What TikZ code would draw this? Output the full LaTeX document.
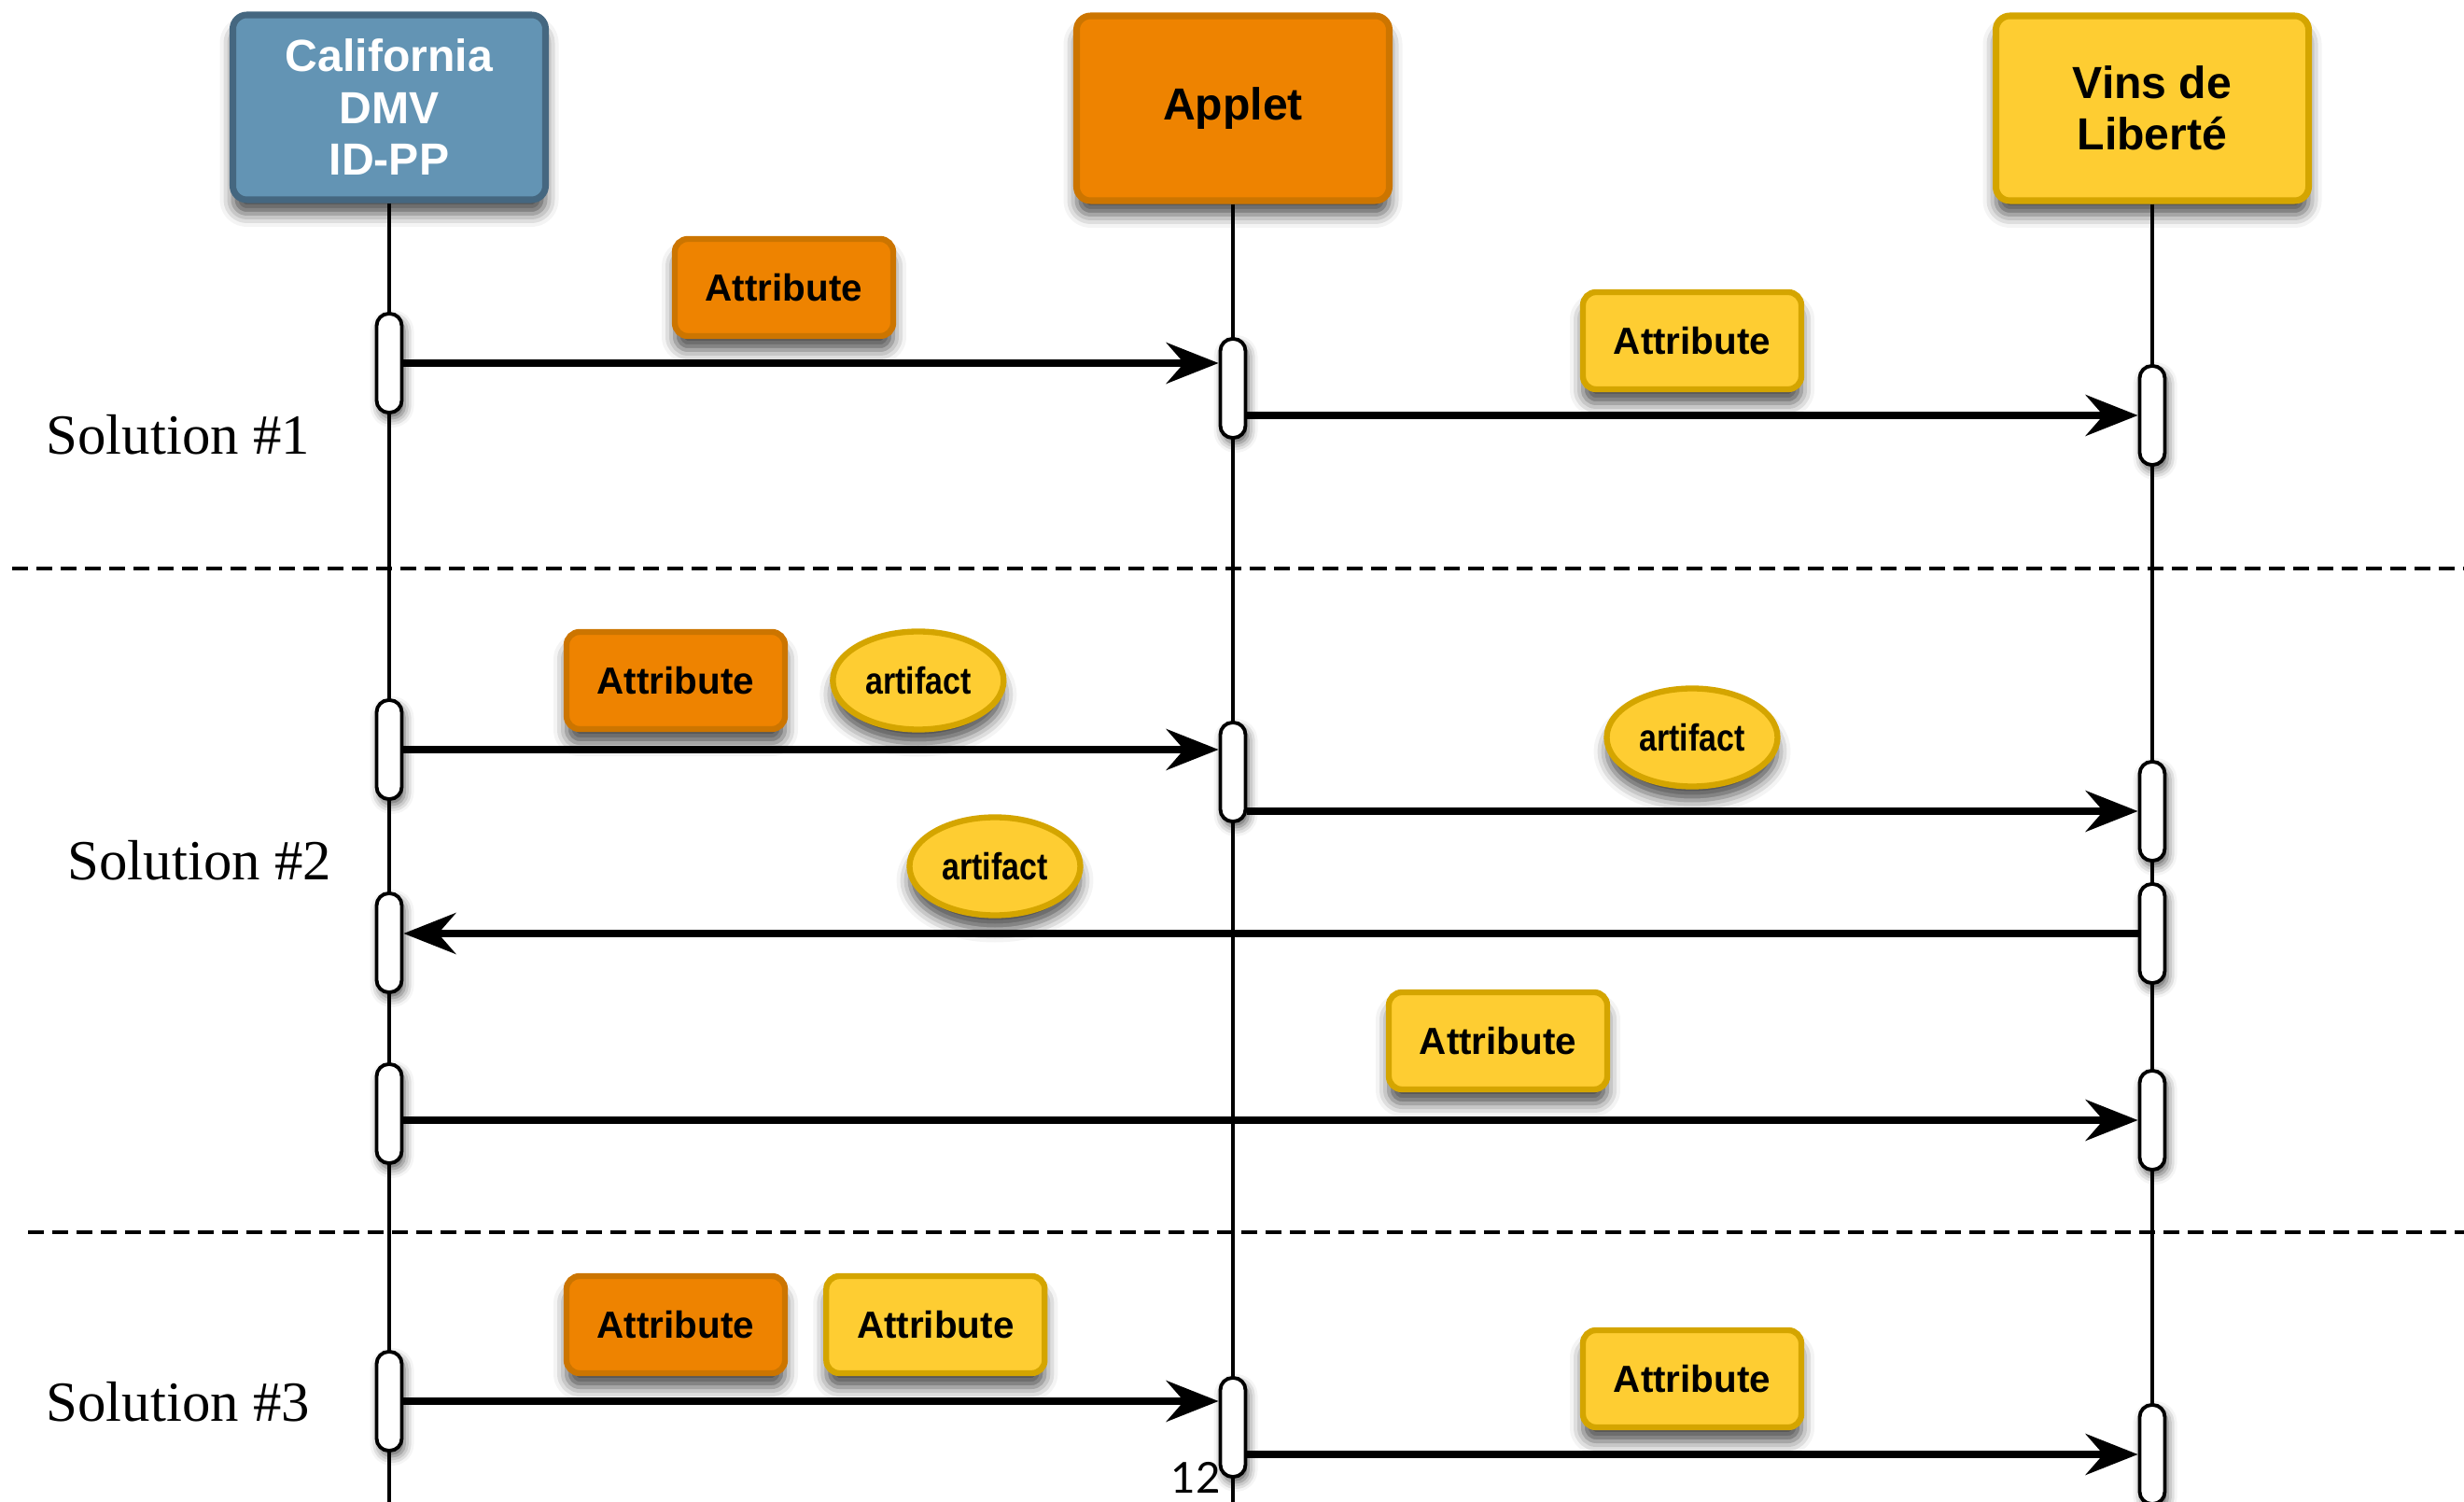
\documentclass[tikz,border=0pt]{standalone}
\usepackage{fontspec}
\setmainfont{Liberation Sans}
\newfontfamily\solfont{Liberation Serif}
\newfontfamily\artfont[FakeStretch=0.84]{Liberation Sans}
\newfontfamily\pagefont{Lato}
\usetikzlibrary{arrows.meta,shapes,positioning,shadows,shadows.blur}
\definecolor{dmvblue}{RGB}{99,148,180}
\definecolor{dmvbluedark}{RGB}{69,103,128}
\definecolor{apporange}{RGB}{238,131,0}
\definecolor{apporangedark}{RGB}{204,117,0}
\definecolor{vinsyellow}{RGB}{254,205,50}
\definecolor{vinsyellowdark}{RGB}{212,165,0}
\tikzstyle{softshadow} = [blur shadow={shadow xshift=0cm, shadow yshift=-0.15cm, shadow blur radius=0.14cm, shadow opacity=70}]
\tikzstyle{party} = [rectangle, rounded corners=0.15cm, minimum width=3.35cm, minimum height=1.98cm, align=center, line width=2pt, font=\fontsize{13.7}{15.8}\selectfont\bfseries, softshadow]
\tikzstyle{activation} = [rectangle, rounded corners=0.13cm, minimum width=0.27cm, minimum height=1.06cm, inner sep=0pt, draw=black, fill=white, line width=1.1pt, blur shadow={shadow xshift=0.03cm, shadow yshift=-0.06cm, shadow blur radius=0.1cm, shadow opacity=65}]
\tikzstyle{attr} = [rectangle, rounded corners=0.14cm, minimum width=2.34cm, minimum height=1.04cm, line width=1.8pt, font=\fontsize{11.5}{13}\selectfont\bfseries, softshadow]
\tikzstyle{attrorange} = [attr, fill=apporange, draw=apporangedark]
\tikzstyle{attryellow} = [attr, fill=vinsyellow, draw=vinsyellowdark]
\tikzstyle{artifact} = [ellipse, minimum width=1.83cm, minimum height=1.05cm, inner sep=0pt, line width=1.8pt, fill=vinsyellow, draw=vinsyellowdark, font=\artfont\fontsize{11.5}{13}\selectfont\bfseries, softshadow]
\tikzstyle{lifeline} = [line width=0.9pt]
\tikzstyle{msg} = [line width=2pt, -{Stealth[length=5.6mm, width=4.4mm, inset=1.9mm]}]
\tikzstyle{separator} = [line width=0.9pt, dash pattern=on 0.17cm off 0.09cm]
\tikzstyle{solution} = [anchor=west, inner sep=0pt, font=\solfont\fontsize{17.3}{20}\selectfont]

\begin{document}
\begin{tikzpicture}
\useasboundingbox (0,0) rectangle (26.4,-16.09);
% separators between the three solutions
\draw[separator] (0.13,-6.09) -- (26.4,-6.09);
\draw[separator] (0.30,-13.20) -- (26.4,-13.20);

% participants
\node (cal) [party, fill=dmvblue, draw=dmvbluedark, text=white] at (4.17,-1.15) {California\\DMV\\ID-PP};
\node (applet) [party, fill=apporange, draw=apporangedark] at (13.21,-1.16) {Applet};
\node (vins) [party, fill=vinsyellow, draw=vinsyellowdark] at (23.06,-1.16) {Vins de\\Libert\'e};

\draw[lifeline] (cal.south) -- (cal |- 0,-16.09);
\draw[lifeline] (applet.south) -- (applet |- 0,-16.09);
\draw[lifeline] (vins.south) -- (vins |- 0,-16.09);

% Solution #1
\node [solution] at (0.49,-4.66) {Solution \#1};
\node (cal1) [activation] at (cal |- 0,-3.89) {};
\node (app1) [activation] at (applet |- 0,-4.16) {};
\node (vins1) [activation] at (vins |- 0,-4.45) {};
\node (attr1) [attrorange] at (8.40,-3.08) {Attribute};
\node (attr2) [attryellow] at (18.13,-3.65) {Attribute};
\draw[msg] (cal1.east) -- (cal1.east -| app1.west);
\draw[msg] (app1.east |- vins1) -- (vins1.west);

% Solution #2
\node [solution] at (0.72,-9.22) {Solution \#2};
\node (cal2) [activation] at (cal |- 0,-8.03) {};
\node (app2) [activation] at (applet |- 0,-8.27) {};
\node (vins2) [activation] at (vins |- 0,-8.69) {};
\node (vins3) [activation] at (vins |- 0,-10.00) {};
\node (cal3) [activation] at (cal |- 0,-10.10) {};
\node (cal4) [activation] at (cal |- 0,-11.93) {};
\node (vins4) [activation] at (vins |- 0,-12.00) {};
\node (attr3) [attrorange] at (7.24,-7.29) {Attribute};
\node (art1) [artifact, right=0.45cm of attr3] {artifact};
\node (art2) [artifact] at (18.13,-7.90) {artifact};
\node (art3) [artifact] at (10.66,-9.28) {artifact};
\node (attr4) [attryellow] at (16.05,-11.15) {Attribute};
\draw[msg] (cal2.east) -- (cal2.east -| app2.west);
\draw[msg] (app2.east |- vins2) -- (vins2.west);
\draw[msg] (vins3.west) -- (vins3.west -| cal3.east);
\draw[msg] (cal4.east |- vins4) -- (vins4.west);

% Solution #3
\node [solution] at (0.49,-15.02) {Solution \#3};
\node (cal5) [activation] at (cal |- 0,-15.01) {};
\node (app3) [activation] at (applet |- 0,-15.29) {};
\node (vins5) [activation] at (vins |- 0,-15.58) {};
\node (attr5) [attrorange] at (7.24,-14.19) {Attribute};
\node (attr6) [attryellow, right=0.38cm of attr5] {Attribute};
\node (attr7) [attryellow] at (18.13,-14.77) {Attribute};
\draw[msg] (cal5.east) -- (cal5.east -| app3.west);
\draw[msg] (app3.east |- vins5) -- (vins5.west);

\node (page) [font=\pagefont\fontsize{13}{15}\selectfont] at (12.81,-15.83) {12};
\end{tikzpicture}
\end{document}
